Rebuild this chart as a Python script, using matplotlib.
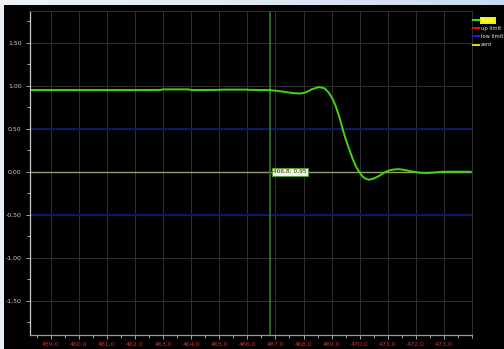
import numpy as np
import matplotlib
matplotlib.use("Agg")
import matplotlib.pyplot as plt
from matplotlib.lines import Line2D
from matplotlib.ticker import MultipleLocator, FuncFormatter
from matplotlib.colors import LinearSegmentedColormap

# Track signal samples (position, value)
track_x = [458.26, 459.0, 460.0, 461.0, 462.0, 462.9, 463.0, 463.9, 464.0, 465.0,
           465.1, 466.0, 466.1, 466.8, 467.2, 467.6, 467.9, 468.1, 468.3, 468.55,
           468.75, 468.9, 469.05, 469.15, 469.3, 469.4, 469.5, 469.63, 469.75, 469.87,
           470.0, 470.1, 470.2, 470.34, 470.5, 470.7, 470.9, 471.05, 471.2, 471.4,
           471.6, 471.9, 472.15, 472.4, 472.7, 472.95, 473.5, 473.95]
track_y = [0.950, 0.950, 0.950, 0.950, 0.950, 0.952, 0.958, 0.958, 0.950, 0.952,
           0.955, 0.955, 0.952, 0.950, 0.935, 0.915, 0.910, 0.925, 0.960, 0.985,
           0.970, 0.920, 0.840, 0.760, 0.610, 0.490, 0.380, 0.260, 0.150, 0.060,
           -0.010, -0.055, -0.080, -0.093, -0.080, -0.047, -0.005, 0.015, 0.025, 0.030,
           0.020, 0.000, -0.012, -0.015, -0.008, 0.000, 0.000, 0.000]

low_limits = [0.5, -0.5]
zero_level = 0.0
cursor_x = 466.8
cursor_y = 0.95

x_ticks = [459.0, 460.0, 461.0, 462.0, 463.0, 464.0, 465.0, 466.0,
           467.0, 468.0, 469.0, 470.0, 471.0, 472.0, 473.0]
y_ticks = [-1.5, -1.0, -0.5, 0.0, 0.5, 1.0, 1.5]
x_range = (458.26, 474.0)
y_range = (-1.9, 1.87)

W, H = 504, 349
fig = plt.figure(figsize=(W / 100, H / 100), dpi=100)
fig.patch.set_facecolor("black")

# window chrome: light strips on top and left
top = fig.add_axes([0, 1 - 5 / H, 1, 5 / H])
grad = np.linspace(0, 1, 256).reshape(1, -1)
cm = LinearSegmentedColormap.from_list("chrome", ["#eef2f8", "#dfe8f4", "#c9daf0"])
top.imshow(grad, aspect="auto", cmap=cm, extent=[0, 1, 0, 1])
top.set_axis_off()
left = fig.add_axes([0, 0, 4 / W, 1 - 5 / H])
left.set_facecolor("#e6edf5")
left.set_xticks([]); left.set_yticks([])
for s in left.spines.values():
    s.set_visible(False)

ax = fig.add_axes([30 / W, (H - 335) / H, (472 - 30) / W, (335 - 11) / H])
ax.set_facecolor("black")
ax.set_xlim(*x_range)
ax.set_ylim(*y_range)

ax.set_xticks(x_ticks)
ax.set_yticks(y_ticks)
ax.xaxis.set_minor_locator(MultipleLocator(0.5))
ax.yaxis.set_minor_locator(MultipleLocator(0.25))
comma = FuncFormatter(lambda v, p: f"{v:.2f}".replace(".", ","))
comma1 = FuncFormatter(lambda v, p: f"{v:.1f}".replace(".", ","))
ax.yaxis.set_major_formatter(comma)
ax.xaxis.set_major_formatter(comma1)
ax.tick_params(axis="y", which="major", length=3, width=0.6, color="#bbbbbb",
               labelsize=4.5, labelcolor="#d0d0d0", pad=3)
ax.tick_params(axis="y", which="minor", length=2, width=0.6, color="#bbbbbb")
ax.tick_params(axis="x", which="major", length=3, width=0.6, color="#bbbbbb",
               labelsize=4.5, labelcolor="#d03030", pad=2)
ax.tick_params(axis="x", which="minor", length=2, width=0.6, color="#bbbbbb")

ax.grid(True, which="major", color="#303030", linewidth=0.7)
ax.set_axisbelow(True)
for side in ("top", "right"):
    ax.spines[side].set_color("#303030")
    ax.spines[side].set_linewidth(0.7)
ax.spines["left"].set_color("#c8c8c8")
ax.spines["bottom"].set_color("#9a9a9a")
ax.spines["left"].set_linewidth(0.9)
ax.spines["bottom"].set_linewidth(0.9)

for lv in low_limits:
    ax.axhline(lv, color="#0c1a78", linewidth=1.3)
ax.axhline(zero_level, color="#9aa060", linewidth=1.0)
ax.axvline(cursor_x, color="#2d6e2d", linewidth=1.3)
ax.plot(track_x, track_y, color="#44d411", linewidth=1.4)

ax.annotate(f"{cursor_x:.1f}; {cursor_y:.2f}".replace(".", ","),
            xy=(cursor_x, zero_level), xytext=(2.5, 0), textcoords="offset points",
            ha="left", va="center", fontsize=4.2, color="#203010",
            bbox=dict(boxstyle="square,pad=0.25", facecolor="#f2f8e8",
                      edgecolor="#5a9a2a", linewidth=0.8))

handles = [Line2D([], [], color="#33dd11", lw=1.5),
           Line2D([], [], color="#dd1111", lw=1.5),
           Line2D([], [], color="#1122cc", lw=1.5),
           Line2D([], [], color="#d8d020", lw=1.5)]
labels = ["Track", "up limit", "low limit", "zero"]
leg = fig.legend(handles, labels, loc="upper left", bbox_to_anchor=(473 / W, 1 - 18 / H),
                 frameon=False, fontsize=3.8, handlelength=1.1, handletextpad=0.45,
                 labelspacing=0.6, borderaxespad=0, borderpad=0.0, labelcolor="#e8e8e8")
t0 = leg.get_texts()[0]
t0.set_color("#fafae0")
t0.set_bbox(dict(boxstyle="square,pad=0.15", facecolor="#f4f000", edgecolor="none"))

fig.savefig("out.png", dpi=100, facecolor=fig.get_facecolor())
